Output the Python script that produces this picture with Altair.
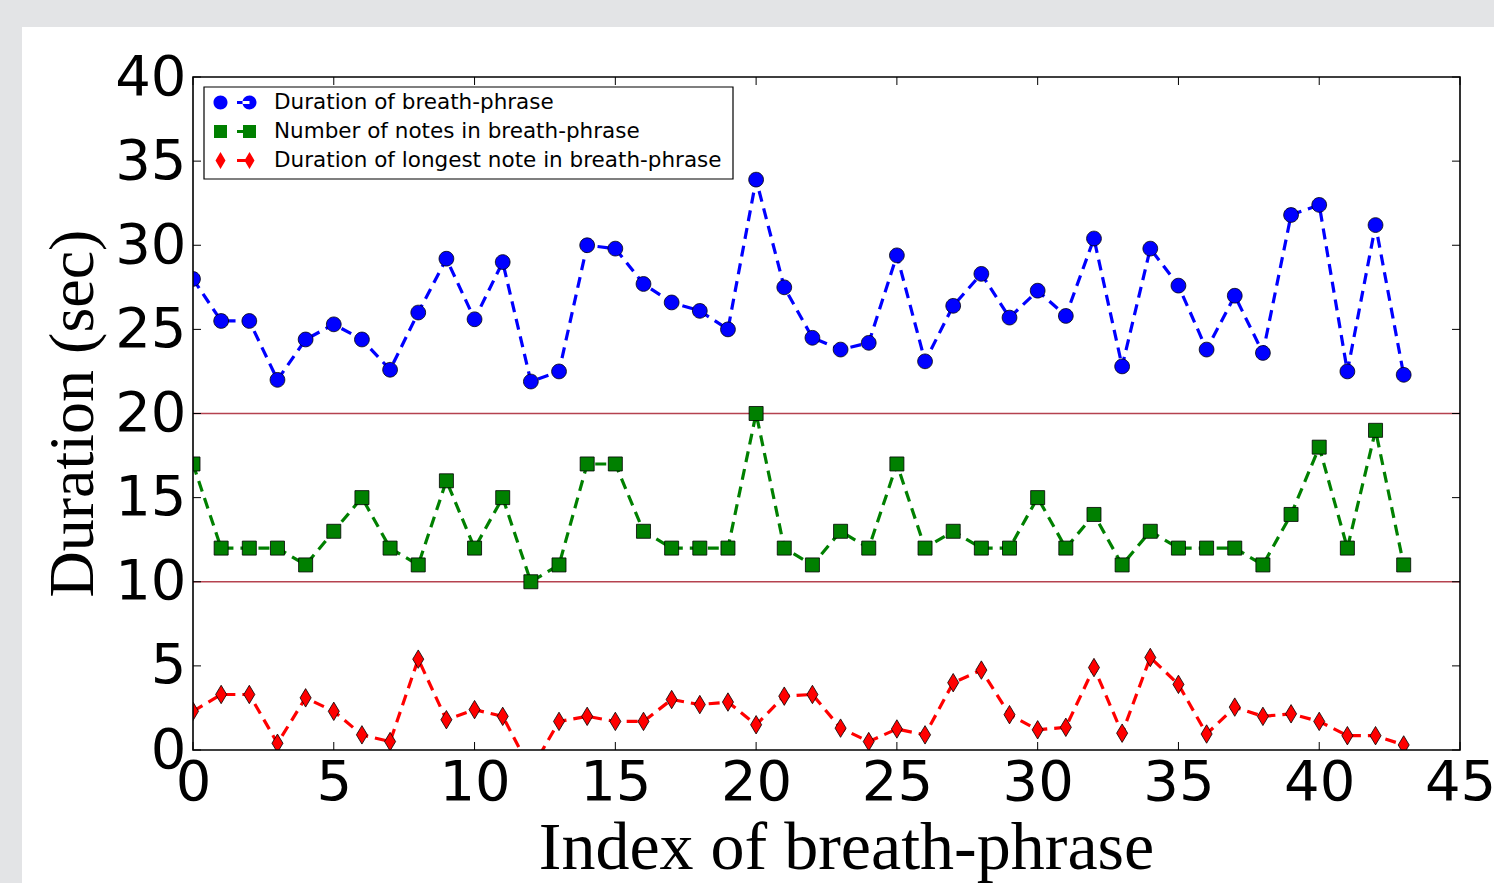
import altair as alt
import pandas as pd

# ---- data ----
index = list(range(44))
duration_phrase = [28.0, 25.5, 25.5, 22.0, 24.4, 25.3, 24.4, 22.6, 26.0, 29.2,
                   25.6, 29.0, 21.9, 22.5, 30.0, 29.8, 27.7, 26.6, 26.1, 25.0,
                   33.9, 27.5, 24.5, 23.8, 24.2, 29.4, 23.1, 26.4, 28.3, 25.7,
                   27.3, 25.8, 30.4, 22.8, 29.8, 27.6, 23.8, 27.0, 23.6, 31.8,
                   32.4, 22.5, 31.2, 22.3]
num_notes = [17, 12, 12, 12, 11, 13, 15, 12, 11, 16,
             12, 15, 10, 11, 17, 17, 13, 12, 12, 12,
             20, 12, 11, 13, 12, 17, 12, 13, 12, 12,
             15, 12, 14, 11, 13, 12, 12, 12, 11, 14,
             18, 12, 19, 11]
longest_note = [2.3, 3.3, 3.3, 0.4, 3.1, 2.3, 0.9, 0.5, 5.4, 1.8,
                2.4, 2.0, -1.2, 1.7, 2.0, 1.7, 1.7, 3.0, 2.7, 2.85,
                1.5, 3.2, 3.3, 1.3, 0.5, 1.25, 0.9, 4.0, 4.75, 2.1,
                1.2, 1.35, 4.9, 1.0, 5.5, 3.9, 0.95, 2.55, 2.0, 2.15,
                1.7, 0.85, 0.85, 0.3]
series_names = ["Duration of breath-phrase",
                "Number of notes in breath-phrase",
                "Duration of longest note in breath-phrase"]
series_colors = ["#0000ff", "#008000", "#ff0000"]
x_ticks = [0, 5, 10, 15, 20, 25, 30, 35, 40, 45]
y_ticks = [0, 5, 10, 15, 20, 25, 30, 35, 40]
ref_lines = [10, 20]

rows = []
for name, vals in zip(series_names, [duration_phrase, num_notes, longest_note]):
    for i, v in zip(index, vals):
        rows.append({"x": i, "y": v, "series": name})
df = pd.DataFrame(rows)
xt_df = pd.DataFrame({"x": x_ticks})
yt_df = pd.DataFrame({"y": y_ticks})
ref_df = pd.DataFrame({"y": ref_lines})

W, H = 1267, 673

xs = alt.Scale(domain=[0, 45], nice=False, zero=False)
ys = alt.Scale(domain=[0, 40], nice=False, zero=False)
col_scale = alt.Scale(domain=series_names, range=series_colors)

# marker shapes (unit box -1..1)
circ = "M-0.8,0A0.8,0.8 0 1,0 0.8,0A0.8,0.8 0 1,0 -0.8,0Z"
sq = "M-0.76,-0.76L0.76,-0.76L0.76,0.76L-0.76,0.76Z"
dia = "M0,-1L0.6,0L0,1L-0.6,0Z"
marker_paths = [circ, sq, dia]
marker_sizes = [340, 340, 340]


def f(v):
    return f"{v:.3f}"


def leg_circle(cx, r):
    return f"M{f(cx - r)},0A{r},{r} 0 1,0 {f(cx + r)},0A{r},{r} 0 1,0 {f(cx - r)},0Z"


def leg_square(cx, h):
    return f"M{f(cx - h)},{-h}L{f(cx + h)},{-h}L{f(cx + h)},{h}L{f(cx - h)},{h}Z"


def leg_diamond(cx, hh, hw):
    return f"M{f(cx)},{-hh}L{f(cx + hw)},0L{f(cx)},{hh}L{f(cx - hw)},0Z"


# legend glyphs: marker - dash - marker (unit = 12.5 px)
LC, RC = -0.44, 1.88
dash = "M0.88,-0.12L1.88,-0.12L1.88,0.12L0.88,0.12Z"
leg_paths = [
    leg_circle(LC, 0.56) + dash + leg_circle(RC, 0.56),
    leg_square(LC, 0.52) + dash + leg_square(RC, 0.52),
    leg_diamond(LC, 0.68, 0.4) + dash + leg_diamond(RC, 0.68, 0.4),
]

x_axis = alt.Axis(values=x_ticks, title="Index of breath-phrase",
                  titleFont="Liberation Serif", titleFontSize=68,
                  titleFontWeight="normal", titleColor="black",
                  titleX=653, titleY=118, titleBaseline="alphabetic",
                  labelFont="DejaVu Sans", labelFontSize=56, labelColor="black",
                  labelPadding=5, ticks=False, domain=False, grid=False,
                  labelFlush=False, labelOverlap=False, zindex=1)
y_axis = alt.Axis(values=y_ticks, title="Duration (sec)",
                  titleFont="Liberation Serif", titleFontSize=64,
                  titleFontWeight="normal", titleColor="black",
                  titleX=-101, titleY=336, titleBaseline="alphabetic",
                  titleAlign="center", titleAngle=270,
                  labelFont="DejaVu Sans", labelFontSize=56, labelColor="black",
                  labelPadding=7, ticks=False, domain=False, grid=False,
                  labelFlush=False, labelOverlap=False, zindex=1)


def X():
    return alt.X("x:Q", scale=xs, axis=x_axis)


def Y():
    return alt.Y("y:Q", scale=ys, axis=y_axis)


# white panel behind the figure (page decoration)
panel = alt.Chart(pd.DataFrame({"a": [0]})).mark_rect(color="white").encode(
    x=alt.value(22 - 193), x2=alt.value(1494 - 193),
    y=alt.value(27 - 77), y2=alt.value(883 - 77))

refs = alt.Chart(ref_df).mark_rule(color="#b5424f", strokeWidth=1.3).encode(y=Y())

lines = alt.Chart(df).mark_line(strokeDash=[11, 7], strokeWidth=3.2, clip=True).encode(
    x=X(), y=Y(),
    color=alt.Color("series:N", scale=col_scale, legend=None),
    detail="series:N")

point_layers = []
for name, path, sz in zip(series_names, marker_paths, marker_sizes):
    point_layers.append(
        alt.Chart(df).transform_filter(alt.datum.series == name).mark_point(
            filled=True, opacity=1, size=sz, shape=path, stroke="black",
            strokeWidth=0.8, clip=True).encode(
            x=X(), y=Y(),
            color=alt.Color("series:N", scale=col_scale, legend=None)))

# legend box (decoration) and one single-entry legend per series inside it
legend_box = alt.Chart(pd.DataFrame({"a": [0]})).mark_rect(
    fill="white", stroke="black", strokeWidth=1.2).encode(
    x=alt.value(11), x2=alt.value(540), y=alt.value(10), y2=alt.value(102))

legend_layers = []
for i, (name, colr, lpath) in enumerate(zip(series_names, series_colors, leg_paths)):
    leg = alt.Legend(orient="none", legendX=20, legendY=12.5 + 29 * i, title=None,
                     labelFont="DejaVu Sans", labelFontSize=21.5, labelColor="black",
                     labelLimit=1000, labelOffset=35, padding=0,
                     symbolSize=625, symbolFillColor=colr, symbolStrokeColor="black",
                     symbolStrokeWidth=0.5)
    legend_layers.append(
        alt.Chart(df).transform_filter("false").mark_point(
            filled=True, fill=colr, opacity=1, size=625, stroke="black",
            strokeWidth=0.5).encode(
            shape=alt.Shape("series:N",
                            scale=alt.Scale(domain=[name], range=[lpath]),
                            legend=leg)))

tick_bottom = alt.Chart(xt_df).mark_rule(color="black", strokeWidth=1).encode(
    x=X(), y=alt.value(H), y2=alt.value(H - 8))
tick_top = alt.Chart(xt_df).mark_rule(color="black", strokeWidth=1).encode(
    x=X(), y=alt.value(0), y2=alt.value(8))
tick_left = alt.Chart(yt_df).mark_rule(color="black", strokeWidth=1).encode(
    y=Y(), x=alt.value(0), x2=alt.value(8))
tick_right = alt.Chart(yt_df).mark_rule(color="black", strokeWidth=1).encode(
    y=Y(), x=alt.value(W), x2=alt.value(W - 8))

frame = alt.Chart(pd.DataFrame({"a": [0]})).mark_rect(
    fillOpacity=0, stroke="black", strokeWidth=1.6).encode(
    x=alt.value(0), x2=alt.value(W), y=alt.value(0), y2=alt.value(H))

chart = alt.layer(
    panel, refs, tick_bottom, tick_top, tick_left, tick_right,
    lines, *point_layers, frame, legend_box, *legend_layers
).resolve_scale(shape="independent").properties(
    width=W, height=H,
    background="#e3e4e6",
    autosize=alt.AutoSizeParams(type="none"),
    padding={"left": 193, "top": 77, "right": 34, "bottom": 133},
)

chart.save("out.html", embed_options={"renderer": "svg", "actions": False})
